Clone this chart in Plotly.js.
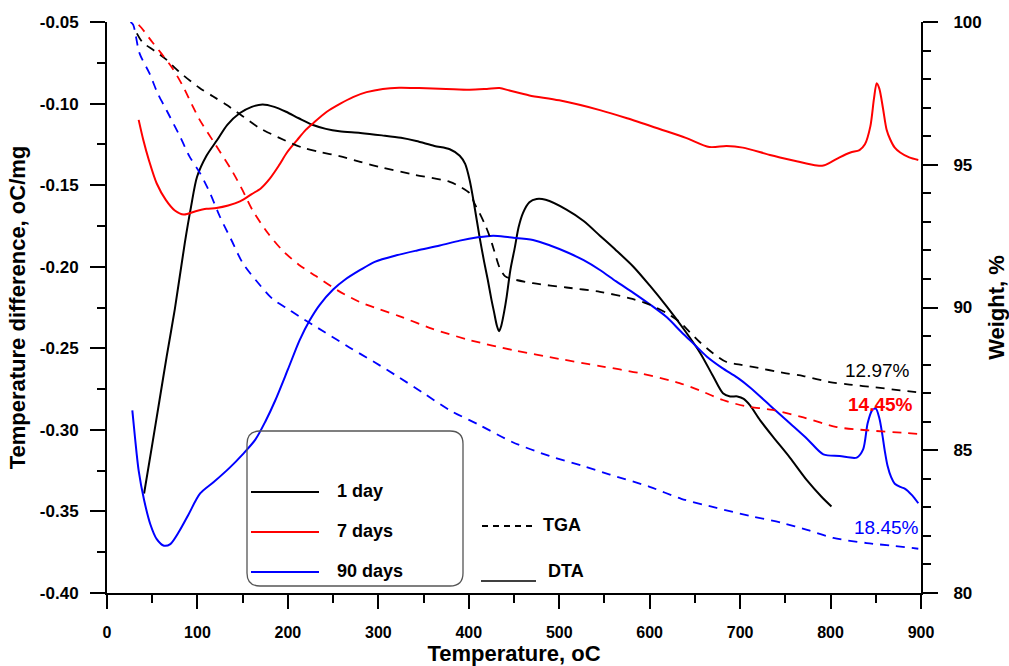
<!DOCTYPE html>
<html>
<head>
<meta charset="utf-8">
<script src="https://cdn.plot.ly/plotly-3.0.1.min.js"></script>
<style>html,body{margin:0;padding:0;background:#fff;}#chart{width:1009px;height:666px;}</style>
</head>
<body>
<div id="chart"></div>
<script>
// ---- DTA data (Temperature difference, oC/mg) ----
const dta1dayT = [41,50,58,66,75,86,93,99.5,110,121.6,133,147,160,172,185,198,212,227,242,257,280,304,325,342,362,379,390,396,401,406,412,417,421,425,428,431,433.5,436,439,442,446,451,455,460,467,475,485,508,527,545,563,582,600,619,638,656,670,681,689,697,704,711,722,736,755,774,790,801];
const dta1dayV = [-0.339,-0.309,-0.282,-0.255,-0.226,-0.1855,-0.163,-0.145,-0.132,-0.1225,-0.113,-0.1058,-0.102,-0.1005,-0.102,-0.105,-0.109,-0.113,-0.1155,-0.117,-0.118,-0.1195,-0.121,-0.123,-0.126,-0.128,-0.132,-0.137,-0.147,-0.162,-0.182,-0.197,-0.208,-0.220,-0.228,-0.236,-0.2395,-0.236,-0.228,-0.218,-0.202,-0.188,-0.176,-0.167,-0.1605,-0.1585,-0.159,-0.165,-0.172,-0.181,-0.190,-0.200,-0.2115,-0.2245,-0.2385,-0.253,-0.267,-0.2775,-0.2795,-0.2795,-0.281,-0.285,-0.294,-0.304,-0.317,-0.331,-0.341,-0.347];

const dta7dayT = [35,40,46.5,55,65,75,85,98,110,121,134,147,160,170,180,190,199,210,220,228,243,258,272,287,305,323,345,375,401,420,434,445,467,500,545,575,611,640,666,685,703,733,760,785,792,800,810,822,832,838,844,848,851,854,858,862,866,871,877,887,897];
const dta7dayV = [-0.110,-0.122,-0.135,-0.149,-0.159,-0.1655,-0.168,-0.166,-0.1645,-0.164,-0.1625,-0.160,-0.1555,-0.152,-0.146,-0.138,-0.130,-0.1225,-0.116,-0.112,-0.105,-0.100,-0.096,-0.093,-0.091,-0.0903,-0.0905,-0.091,-0.0915,-0.091,-0.0905,-0.092,-0.095,-0.098,-0.104,-0.109,-0.1156,-0.121,-0.1266,-0.126,-0.127,-0.1315,-0.135,-0.138,-0.138,-0.136,-0.133,-0.130,-0.1285,-0.125,-0.114,-0.097,-0.0875,-0.091,-0.103,-0.116,-0.122,-0.127,-0.130,-0.133,-0.1346];

const dta90dayT = [28,31,35,41,48,55,63,70,80,90,103,118,136,150,164,175,186,200,213,224,235,250,263,280,296,320,343,368,390,410,427,445,471,490,508,527,545,563,582,600,619,635,650,663,680,697,711,733,755,775,792,810,829,836,841,846,850,854,857,860,863,867,871,877,882,890,897];
const dta90dayV = [-0.288,-0.305,-0.325,-0.343,-0.358,-0.367,-0.371,-0.370,-0.362,-0.352,-0.339,-0.332,-0.323,-0.315,-0.306,-0.295,-0.282,-0.263,-0.245,-0.233,-0.2235,-0.214,-0.208,-0.202,-0.197,-0.193,-0.190,-0.187,-0.184,-0.182,-0.181,-0.182,-0.1836,-0.187,-0.191,-0.196,-0.202,-0.209,-0.216,-0.223,-0.231,-0.240,-0.248,-0.255,-0.262,-0.268,-0.274,-0.285,-0.296,-0.306,-0.315,-0.316,-0.317,-0.312,-0.296,-0.288,-0.287,-0.293,-0.302,-0.313,-0.322,-0.329,-0.333,-0.335,-0.336,-0.340,-0.345];

// ---- TGA data (Weight, %) ----
const tga1dayT = [33,39,52,65,80,102,117,132,150,168,190,216,235,257,280,304,340,379,392,401,407,412,418,423,428,434,440,448,471,508,545,581,600,619,633,644,655,670,685,700,714,748,770,799,821,850,877,897];
const tga1dayW = [99.6,99.3,99.0,98.7,98.25,97.7,97.4,97.1,96.7,96.3,95.95,95.6,95.45,95.3,95.1,94.9,94.65,94.4,94.2,94.0,93.6,93.3,92.9,92.5,92.0,91.4,91.1,91.0,90.85,90.7,90.55,90.3,90.1,89.8,89.5,89.15,88.8,88.4,88.09,88.0,87.92,87.71,87.6,87.39,87.3,87.2,87.1,87.03];

const tga7dayT = [35,38,50,60,72,84,94,102,120,138,150,161,178,194,212,231,255,279,300,323,360,401,450,500,545,589,633,655,681,705,736,770,807,840,885,897];
const tga7dayW = [99.9,99.8,99.3,98.9,98.4,97.75,97.1,96.6,95.7,94.8,94.1,93.4,92.6,92.0,91.5,91.1,90.6,90.2,89.95,89.7,89.25,88.86,88.5,88.2,87.95,87.7,87.35,87.1,86.76,86.55,86.41,86.15,85.81,85.7,85.6,85.57];

const tga90dayT = [26,29,36,47,56,66,81,91,103,114,125,137,150,166,183,200,212,240,268,295,323,350,379,412,448,489,526,556,600,635,674,711,747,775,803,840,870,897];
const tga90dayW = [100,99.9,98.9,98.2,97.5,96.9,95.97,95.3,94.7,94.0,93.17,92.4,91.56,90.9,90.3,89.95,89.7,89.15,88.6,88.1,87.55,87.0,86.4,85.88,85.29,84.8,84.45,84.15,83.72,83.3,82.98,82.7,82.45,82.2,81.93,81.75,81.65,81.55];

// ---- labels ----
const seriesNames = ['1 day','7 days','90 days'];
const seriesColors = ['#000000','#ff0000','#0000ff'];
const lossLabels = ['12.97%','14.45%','18.45%'];
const lossLabelPos = [[852,87.81],[855,86.59],[862,82.28]];
const yTickVals = [-0.40,-0.35,-0.30,-0.25,-0.20,-0.15,-0.10,-0.05];
const yTickLabels = ['-0.40','-0.35','-0.30','-0.25','-0.20','-0.15','-0.10','-0.05'];
const y2TickVals = [80,85,90,95,100];
const xTickVals = [0,100,200,300,400,500,600,700,800,900];

const FONT = 'Liberation Sans, Arial, sans-serif';
const ML = 107, MR = 88, MT = 22, MB = 73, W = 1009, H = 666;
const PW = W - ML - MR, PH = H - MT - MB;
const px = x => (x - ML) / PW;
const py = y => (H - MB - y) / PH;

const dtaX = [dta1dayT, dta7dayT, dta90dayT];
const dtaY = [dta1dayV, dta7dayV, dta90dayV];
const tgaX = [tga1dayT, tga7dayT, tga90dayT];
const tgaY = [tga1dayW, tga7dayW, tga90dayW];

const traces = [];
for (let i = 0; i < 3; i++) {
  traces.push({x: tgaX[i], y: tgaY[i], yaxis: 'y2', mode: 'lines', name: seriesNames[i] + ' TGA',
    line: {color: seriesColors[i], width: 1.8, dash: '9px,7px', shape: 'spline', smoothing: 0.8}, showlegend: false, hoverinfo: 'skip'});
}
for (let i = 0; i < 3; i++) {
  traces.push({x: dtaX[i], y: dtaY[i], yaxis: 'y', mode: 'lines', name: seriesNames[i],
    line: {color: seriesColors[i], width: 2, shape: 'spline', smoothing: 0.8}, showlegend: false, hoverinfo: 'skip'});
}

// rounded legend box
function roundRect(x0, y0, x1, y1, r) {
  const P = (x, y) => px(x) + ',' + py(y);
  return 'M' + P(x0 + r, y0) + ' L' + P(x1 - r, y0) + ' Q' + P(x1, y0) + ' ' + P(x1, y0 + r) +
    ' L' + P(x1, y1 - r) + ' Q' + P(x1, y1) + ' ' + P(x1 - r, y1) +
    ' L' + P(x0 + r, y1) + ' Q' + P(x0, y1) + ' ' + P(x0, y1 - r) +
    ' L' + P(x0, y0 + r) + ' Q' + P(x0, y0) + ' ' + P(x0 + r, y0) + ' Z';
}
const shapes = [
  {type: 'path', xref: 'paper', yref: 'paper', path: roundRect(247, 431, 463, 586, 13), line: {color: '#555', width: 1.3}, fillcolor: 'rgba(0,0,0,0)'}
];
const legendYs = [492, 532, 572];
for (let i = 0; i < 3; i++) {
  shapes.push({type: 'line', xref: 'paper', yref: 'paper', x0: px(251), x1: px(319), y0: py(legendYs[i]), y1: py(legendYs[i]),
    line: {color: seriesColors[i], width: 2}});
}
shapes.push({type: 'line', xref: 'paper', yref: 'paper', x0: px(482), x1: px(536), y0: py(526), y1: py(526), line: {color: '#000', width: 2, dash: '6px,5px'}});
shapes.push({type: 'line', xref: 'paper', yref: 'paper', x0: px(481), x1: px(536), y0: py(581), y1: py(581), line: {color: '#000', width: 1.5}});

const annotations = [];
for (let i = 0; i < 3; i++) {
  annotations.push({xref: 'paper', yref: 'paper', x: px(335), y: py(legendYs[i] - 1), xanchor: 'left', yanchor: 'middle', showarrow: false,
    text: seriesNames[i], font: {family: FONT, size: 18, color: '#000', weight: 'bold'}});
}
annotations.push({xref: 'paper', yref: 'paper', x: px(541), y: py(525), xanchor: 'left', yanchor: 'middle', showarrow: false,
  text: 'TGA', font: {family: FONT, size: 18, color: '#000', weight: 'bold'}});
annotations.push({xref: 'paper', yref: 'paper', x: px(546), y: py(571), xanchor: 'left', yanchor: 'middle', showarrow: false,
  text: 'DTA', font: {family: FONT, size: 18, color: '#000', weight: 'bold'}});
for (let i = 0; i < 3; i++) {
  annotations.push({xref: 'x', yref: 'y2', x: lossLabelPos[i][0], y: lossLabelPos[i][1], xanchor: 'center', yanchor: 'middle', showarrow: false,
    text: lossLabels[i], font: {family: FONT, size: 19, color: seriesColors[i], weight: i === 1 ? 'bold' : 'normal'}});
}

const tickFont = {family: FONT, size: 17, color: '#000', weight: 'bold'};
const titleFont = {family: FONT, size: 22, color: '#000', weight: 'bold'};
const layout = {
  width: W, height: H,
  margin: {l: ML, r: MR, t: MT, b: MB, pad: 0},
  paper_bgcolor: '#fff', plot_bgcolor: '#fff',
  showlegend: false,
  xaxis: {
    range: [0, 900], tickmode: 'array', tickvals: xTickVals,
    ticks: 'outside', ticklen: 14, tickwidth: 2, tickcolor: '#000', ticklabelstandoff: 10,
    minor: {tickmode: 'linear', tick0: 0, dtick: 50, ticks: 'outside', ticklen: 8, tickwidth: 2, tickcolor: '#000', showgrid: false},
    showline: true, linecolor: '#000', linewidth: 2, showgrid: false, zeroline: false, mirror: false,
    tickfont: {family: FONT, size: 16, color: '#000', weight: 'bold'},
    title: {text: 'Temperature, oC', font: titleFont, standoff: 6},
    automargin: false
  },
  yaxis: {
    range: [-0.40, -0.05], tickmode: 'array', tickvals: yTickVals, ticktext: yTickLabels,
    ticks: 'outside', ticklen: 15, tickwidth: 2, tickcolor: '#000', ticklabelstandoff: 8,
    minor: {tickmode: 'linear', tick0: -0.40, dtick: 0.025, ticks: 'outside', ticklen: 8, tickwidth: 2, tickcolor: '#000', showgrid: false},
    showline: true, linecolor: '#000', linewidth: 2, showgrid: false, zeroline: false,
    tickfont: tickFont,
    title: {text: 'Temperature difference, oC/mg', font: titleFont, standoff: 8},
    automargin: false
  },
  yaxis2: {
    overlaying: 'y', side: 'right', anchor: 'x',
    range: [80, 100], tickmode: 'array', tickvals: y2TickVals,
    ticks: 'outside', ticklen: 15, tickwidth: 2, tickcolor: '#000', ticklabelstandoff: 12,
    minor: {tickmode: 'linear', tick0: 80, dtick: 1, ticks: 'outside', ticklen: 8, tickwidth: 2, tickcolor: '#000', showgrid: false},
    showline: true, linecolor: '#000', linewidth: 2, showgrid: false, zeroline: false,
    tickfont: tickFont,
    title: {text: 'Weight, %', font: titleFont, standoff: 8},
    automargin: false
  },
  shapes: shapes,
  annotations: annotations
};
Plotly.newPlot('chart', traces, layout, {displayModeBar: false, staticPlot: true});
</script>
</body>
</html>
